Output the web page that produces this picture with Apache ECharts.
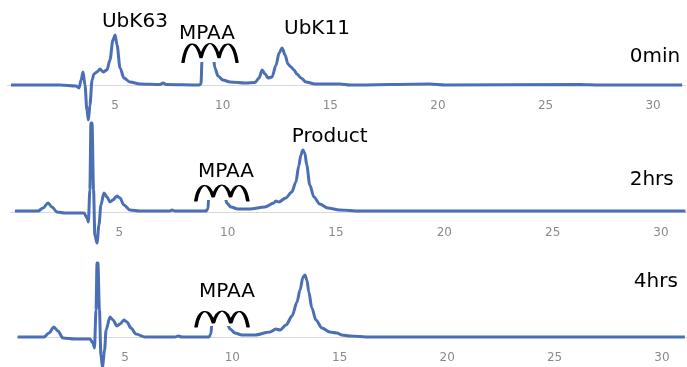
<!DOCTYPE html>
<html><head><meta charset="utf-8">
<script src="https://cdn.jsdelivr.net/npm/echarts@6/dist/echarts.min.js"></script>
<style>html,body{margin:0;padding:0;background:#fff}#c{width:687px;height:367px}</style>
</head><body><div id="c"></div><script>
// ---- data (retention time in min, absorbance in arbitrary units) ----
const ticks = [5, 10, 15, 20, 25, 30];
const panelNames = ['0min', '2hrs', '4hrs'];

const time0 = [0.16,2.44,3.18,3.32,3.42,3.51,3.60,3.69,3.76,3.83,3.93,4.02,4.16,4.30,4.44,4.62,4.76,4.90,5.00,5.09,5.23,5.41,5.69,6.16,7.09,7.23,7.37,8.90,8.99,9.04,9.08,9.27,9.41,9.55,9.64,9.78,10.01,10.34,11.04,11.50,11.69,11.83,11.97,12.11,12.29,12.48,12.62,12.76,12.90,13.03,13.17,13.31,13.45,13.64,13.87,14.29,15.45,15.92,19.63,20.33,26.6,27.5,31.35];
const abs0  = [0,0,-1,-3,5,13,0,-25,-35,-20,5,11,13,16,13,15,25,45,50,40,17,7,3,1,0.5,2,0.5,0,1,25,40,35,40,30,17,9,5,3,2,2.5,7,15,11,7,8,20,32,37,30,21,18,15,11,7,3,1,1,0,1,0,0.5,0,0];

const time2 = [0.18,1.25,1.48,1.71,1.89,2.12,2.49,3.37,3.51,3.57,3.64,3.69,3.74,3.81,3.87,3.97,4.06,4.15,4.29,4.43,4.57,4.70,4.89,5.03,5.21,5.49,5.95,7.33,7.43,7.56,8.99,9.09,9.13,9.18,9.50,9.78,9.87,9.96,10.15,10.47,11.02,11.72,12.13,12.22,12.36,12.68,12.96,13.15,13.28,13.38,13.47,13.56,13.65,13.79,13.98,14.25,14.62,15.17,16.1,31.13];
const abs2  = [1,1,4,9,5,0,-1,-1,-6,-10,22,89,89,22,-23,-31,-13,7,19,15,10,12,16,14,7,2,1,1,2,1,1,3,17,24,22,24,16,9,5,3,3,5,9,11,10,14,20,30,46,57,62,59,47,27,15,8,4,2,1,1];

const time4 = [0,1.23,1.46,1.69,1.88,2.11,2.67,3.37,3.51,3.58,3.65,3.70,3.74,3.81,3.88,3.95,4.05,4.12,4.30,4.44,4.63,4.77,4.95,5.09,5.28,5.51,5.93,7.33,7.47,7.65,8.91,9.00,9.05,9.10,9.42,9.70,9.77,9.89,10.12,10.45,11.05,11.75,12.03,12.22,12.50,12.78,13.01,13.15,13.29,13.38,13.47,13.56,13.70,13.89,14.17,14.54,14.87,15.10,15.47,16.4,31.07];
const abs4  = [0,0,4,10,6,-1,-2,-2,-6,-11,27,74,74,27,-18,-30,-13,7,20,17,11,13,17,15,9,3,0,0,1,0,0,3,15,23,19,23,13,8,4,2,2,5,8,7,12,21,35,47,60,62,57,45,29,17,9,5,4,2,1,0,0];

const peakLabels0 = ['UbK63', 'MPAA', 'UbK11'];
const peakLabels2 = ['MPAA', 'Product'];
const peakLabels4 = ['MPAA'];

// ---- layout (annotation anchors in data coordinates) ----
const lineColor = '#4a6fb5';
const zip = (a, b) => a.map((v, i) => [v, b[i]]);
const panels = [
  { grid: {left: 7.5, right: 1.6, top: 0, height: 85}, xmax: 31.5, ymax: 85,
    t: time0, a: abs0, labels: peakLabels0, labelPos: [[5.92, 63], [9.27, 51], [14.38, 56]],
    namePos: [30.09, 28], wave: [9.41, 32], waveSize: [54, 19], mask: [9.41, 35], maskSize: [46, 24] },
  { grid: {left: 11, right: 0, top: 112, height: 100}, xmax: 31.2, ymax: 100,
    t: time2, a: abs2, labels: peakLabels2, labelPos: [[9.92, 40], [14.71, 75]],
    namePos: [29.57, 32], wave: [9.73, 19], waveSize: [52, 16], mask: [9.55, 22], maskSize: [40, 20] },
  { grid: {left: 17.6, right: 0.4, top: 237, height: 100}, xmax: 31.15, ymax: 100,
    t: time4, a: abs4, labels: peakLabels4, labelPos: [[9.75, 45]],
    namePos: [29.72, 55], wave: [9.52, 18], waveSize: [52, 16], mask: [9.42, 21], maskSize: [40, 20] }
];

const wavePath = 'path://M0,20 C3,0 12,0 16,16 C20,0 28,0 32,16 C36,0 45,0 48,20';
const textStyle = { fontFamily: 'DejaVu Sans', fontSize: 20, color: '#000' };

const option = {
  animation: false,
  backgroundColor: '#fff',
  grid: panels.map(p => Object.assign({ containLabel: false, outerBoundsMode: 'none' }, p.grid)),
  xAxis: panels.map((p, i) => ({
    type: 'value', gridIndex: i, min: 0, max: p.xmax,
    axisLine: { show: true, onZero: false, lineStyle: { color: '#d9d9d9', width: 1 } },
    axisTick: { show: false },
    splitLine: { show: false },
    axisLabel: { customValues: ticks, margin: 15, color: '#8a8a8a', fontSize: 12, fontFamily: 'DejaVu Sans' }
  })),
  yAxis: panels.map((p, i) => ({
    type: 'value', gridIndex: i, min: 0, max: p.ymax, show: false, splitLine: { show: false }
  })),
  series: []
};

panels.forEach((p, i) => {
  option.series.push({
    type: 'line', xAxisIndex: i, yAxisIndex: i, data: zip(p.t, p.a),
    showSymbol: false, smooth: 0.3, smoothMonotone: 'x', clip: false, z: 2, silent: true,
    lineStyle: { color: lineColor, width: 3 }
  });
  option.series.push({
    type: 'scatter', xAxisIndex: i, yAxisIndex: i, z: 3, silent: true, clip: false,
    symbol: 'rect', symbolSize: p.maskSize, itemStyle: { color: '#fff', opacity: 1 },
    data: [p.mask]
  });
  option.series.push({
    type: 'scatter', xAxisIndex: i, yAxisIndex: i, z: 4, silent: true, clip: false,
    symbol: wavePath, symbolSize: p.waveSize, symbolKeepAspect: false,
    itemStyle: { color: 'rgba(0,0,0,0)', borderColor: '#000', borderWidth: 2, borderJoin: 'round', borderCap: 'round', opacity: 1 },
    data: [p.wave]
  });
  const items = p.labels.map((name, k) => ({ name, value: p.labelPos[k] }));
  items.push({ name: panelNames[i], value: p.namePos });
  option.series.push({
    type: 'scatter', xAxisIndex: i, yAxisIndex: i, z: 5, silent: true, clip: false,
    symbolSize: 1, itemStyle: { color: 'rgba(0,0,0,0)', opacity: 1 },
    label: Object.assign({ show: true, position: 'inside', formatter: '{b}', textBorderWidth: 0 }, textStyle),
    data: items
  });
});

const chart = echarts.init(document.getElementById('c'), null, { renderer: 'canvas' });
chart.setOption(option);
</script></body></html>
